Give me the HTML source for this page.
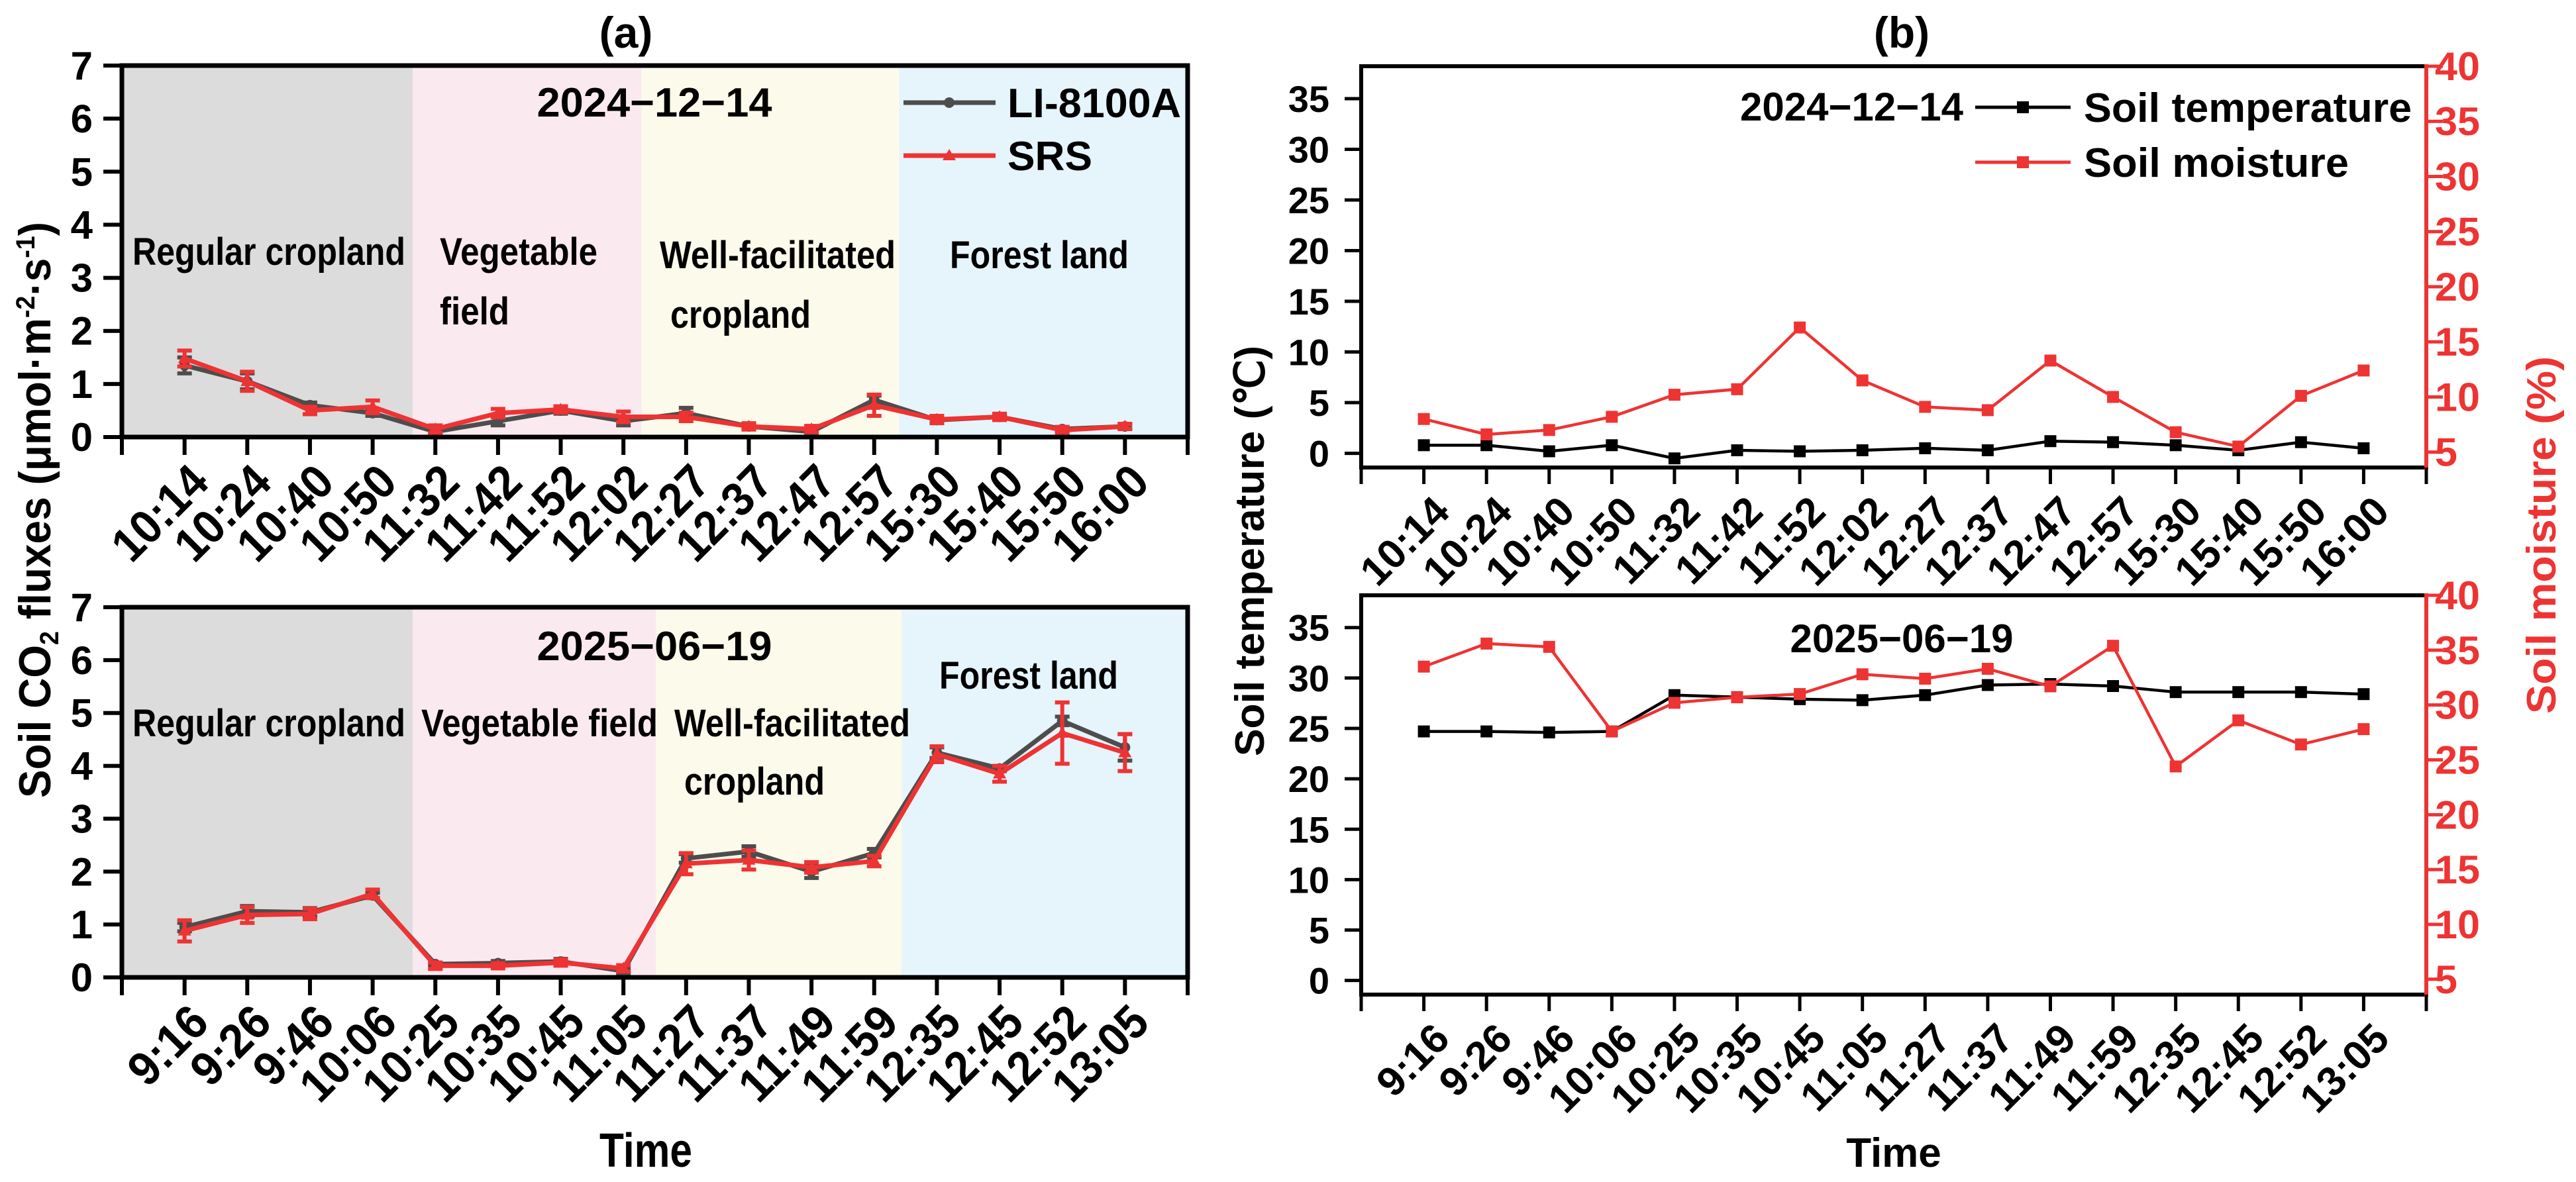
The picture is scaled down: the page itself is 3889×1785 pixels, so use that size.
<!DOCTYPE html>
<html><head><meta charset="utf-8">
<style>
html,body{margin:0;padding:0;background:#fff;}
svg{display:block;font-family:"Liberation Sans",Arial,sans-serif;font-weight:bold;}
</style></head>
<body>
<svg id="fig" width="3889" height="1785" viewBox="0 0 3889 1785" xmlns="http://www.w3.org/2000/svg"></svg>
<script>
// ---- Data ----
const timesDec = ["10:14","10:24","10:40","10:50","11:32","11:42","11:52","12:02","12:27","12:37","12:47","12:57","15:30","15:40","15:50","16:00"];
const timesJun = ["9:16","9:26","9:46","10:06","10:25","10:35","10:45","11:05","11:27","11:37","11:49","11:59","12:35","12:45","12:52","13:05"];
const liDec = [1.35,1.05,0.6,0.45,0.1,0.3,0.5,0.3,0.45,0.2,0.1,0.7,0.32,0.38,0.15,0.2];
const liDecErr = [0.15,0.15,0.05,0.05,0.05,0.08,0.06,0.08,0.1,0.05,0.05,0.08,0.05,0.05,0.04,0.04];
const srsDec = [1.48,1.05,0.5,0.57,0.15,0.45,0.52,0.38,0.38,0.2,0.15,0.6,0.33,0.38,0.13,0.2];
const srsDecErr = [0.15,0.18,0.07,0.12,0.07,0.08,0.06,0.1,0.08,0.06,0.06,0.2,0.07,0.06,0.06,0.05];
const liJun = [0.95,1.25,1.23,1.55,0.25,0.27,0.3,0.12,2.25,2.38,2.0,2.35,4.25,3.95,4.85,4.35];
const liJunErr = [0.08,0.1,0.08,0.05,0.03,0.04,0.05,0.04,0.08,0.1,0.12,0.08,0.1,0.05,0.08,0.25];
const srsJun = [0.88,1.18,1.2,1.58,0.22,0.22,0.28,0.17,2.15,2.22,2.08,2.2,4.22,3.85,4.62,4.25];
const srsJunErr = [0.2,0.15,0.1,0.08,0.06,0.05,0.06,0.06,0.2,0.18,0.1,0.1,0.15,0.15,0.58,0.35];
const tempDec = [0.8,0.8,0.2,0.8,-0.5,0.3,0.2,0.3,0.5,0.3,1.2,1.1,0.8,0.3,1.1,0.5];
const moistDec = [8,6.6,7,8.2,10.2,10.7,16.3,11.5,9.1,8.8,13.3,10.0,6.8,5.5,10.1,12.4];
const tempJun = [24.7,24.7,24.6,24.7,28.3,28.1,27.9,27.8,28.3,29.3,29.4,29.2,28.6,28.6,28.6,28.4];
const moistJun = [33.5,35.6,35.3,27.6,30.2,30.7,31.0,32.8,32.4,33.3,31.7,35.4,24.4,28.6,26.4,27.8];
const fluxTicks = [0,1,2,3,4,5,6,7];
const tempTicks = [0,5,10,15,20,25,30,35];
const moistTicks = [5,10,15,20,25,30,35,40];
const regionNames = ["Regular cropland","Vegetable field","Well-facilitated cropland","Forest land"];
const regionBoundsDec = [0,4.64,8.29,12.4,17];
const regionBoundsJun = [0,4.64,8.52,12.44,17];
const regionColors = ["#dcdcdc","#fbe9f0","#fcfaea","#e6f4fb"];

const NS="http://www.w3.org/2000/svg";
const svg=document.getElementById('fig');
function el(tag,attrs,parent,text){const e=document.createElementNS(NS,tag);for(const k in attrs)e.setAttribute(k,attrs[k]);if(text!==undefined)e.textContent=text;(parent||svg).appendChild(e);return e;}
function mkX(L,R){return i=>L+(i+1)*(R-L)/17;}
function mkXr(L,R){return v=>L+v*(R-L)/17;}
function mkY(T,B,vmin,vmax){return v=>B-(v-vmin)/(vmax-vmin)*(B-T);}

function xLabels(g,labels,x,axisY,dx,dy,fs,cond){
  labels.forEach((t,i)=>{
    const px=x(i)+dx, py=axisY+dy;
    const tx=el('text',{x:px,y:py,'font-size':fs,'text-anchor':'end',transform:`rotate(-45 ${px} ${py})`},g,t);
    if(cond){tx.setAttribute('textLength',t.length*34);tx.setAttribute('lengthAdjust','spacingAndGlyphs');}
    
    
  });
}

function fluxPanel(name,T,B,bounds,li,liE,srs,srsE,labels,dateText,dateY,regionLabels){
  const L=184,R=1793;
  const x=mkX(L,R), xr=mkXr(L,R), y=mkY(T,B,0,7);
  const g=el('g',{});  
  for(let k=0;k<4;k++){
    const r=el('rect',{x:xr(bounds[k]),y:T,width:xr(bounds[k+1])-xr(bounds[k]),height:B-T,fill:regionColors[k]},g);
     
  }
  regionLabels.forEach(r=>{
    const t=el('text',{x:r[1],y:r[2],'font-size':58,textLength:r[3],lengthAdjust:'spacingAndGlyphs'},g,r[0]);
     
  });
  const dt=el('text',{x:988,y:dateY,'font-size':62,'text-anchor':'middle',textLength:355,lengthAdjust:'spacingAndGlyphs'},g,dateText);
   
  [[li,liE,'#4d4d4d','circle'],[srs,srsE,'#ee3333','tri']].forEach(([d,e,c,m])=>{
    const sg=el('g',{},g);  
    d.forEach((v,i)=>{
      const eb=el('path',{d:`M${x(i)},${y(v-e[i])}V${y(v+e[i])}M${x(i)-11},${y(v-e[i])}h22M${x(i)-11},${y(v+e[i])}h22`,stroke:c,'stroke-width':6,fill:'none'},sg);
       
    });
    const ln=el('polyline',{points:d.map((v,i)=>x(i)+','+y(v)).join(' '),fill:'none',stroke:c,'stroke-width':7,'stroke-linejoin':'round'},sg);
     
    d.forEach((v,i)=>{
      let mk;
      if(m==='circle') mk=el('circle',{cx:x(i),cy:y(v),r:8,fill:c},sg);
      else mk=el('path',{d:`M${x(i)},${y(v)-10}l10,17h-20z`,fill:c},sg);
       
    });
  });
  el('rect',{x:L,y:T,width:R-L,height:B-T,fill:'none',stroke:'#000','stroke-width':7},g);
  fluxTicks.forEach(v=>{
    el('line',{x1:L-28,x2:L,y1:y(v),y2:y(v),stroke:'#000','stroke-width':6},g);
    const t=el('text',{x:140,y:y(v)+21,'font-size':60,'text-anchor':'end'},g,v);
     
  });
  for(let k=0;k<=17;k++){el('line',{x1:xr(k),x2:xr(k),y1:B,y2:B+27,stroke:'#000','stroke-width':6},g);}
  xLabels(g,labels,x,B,40,72,72,true);
}

function envPanel(name,T,B,temp,moist,labels,dateText,dateY,legend){
  const L=2055,R=3663;
  const x=mkX(L,R), xr=mkXr(L,R);
  const ty=mkY(T,B,-1.4,38.2), my=mkY(T,B,3.6,40);
  const g=el('g',{});  
  [[temp,ty,'#000','series-soil-temperature'],[moist,my,'#ee3333','series-soil-moisture']].forEach(([d,f,c,n])=>{
    const sg=el('g',{},g);  
    el('polyline',{points:d.map((v,i)=>x(i)+','+f(v)).join(' '),fill:'none',stroke:c,'stroke-width':4.5},sg);
    d.forEach((v,i)=>{const r=el('rect',{x:x(i)-9,y:f(v)-9,width:18,height:18,fill:c},sg);
       });
  });
  el('path',{d:`M${R},${T}H${L}V${B}H${R}`,fill:'none',stroke:'#000','stroke-width':6},g);
  el('line',{x1:R,x2:R,y1:T-3,y2:B+3,stroke:'#ee3333','stroke-width':6},g);
  tempTicks.forEach(v=>{
    el('line',{x1:L-25,x2:L,y1:ty(v),y2:ty(v),stroke:'#000','stroke-width':5},g);
    const t=el('text',{x:2007,y:ty(v)+20,'font-size':56,'text-anchor':'end'},g,v);
     
  });
  moistTicks.forEach(v=>{
    el('line',{x1:R,x2:R+25,y1:my(v),y2:my(v),stroke:'#ee3333','stroke-width':5},g);
    const t=el('text',{x:3676,y:my(v)+21,'font-size':60,fill:'#ee3333',textLength:String(v).length*34,lengthAdjust:'spacingAndGlyphs'},g,v);
     
  });
  for(let k=0;k<=17;k++){el('line',{x1:xr(k),x2:xr(k),y1:B,y2:B+25,stroke:'#000','stroke-width':5},g);}
  xLabels(g,labels,x,B,42,70,62,false);
  const dt=el('text',{x:dateX(legend),y:dateY,'font-size':60,'text-anchor':legend?'end':'middle'},g,dateText);
   
  if(legend){
    const lg=el('g',{},g);  
    [['Soil temperature','#000',162,495],['Soil moisture','#ee3333',245,400]].forEach(([t,c,yy,w])=>{
      el('line',{x1:2982,x2:3126,y1:yy,y2:yy,stroke:c,'stroke-width':5},lg);
      el('rect',{x:3045,y:yy-9,width:18,height:18,fill:c},lg);
      const tx=el('text',{x:3146,y:yy+22,'font-size':62,textLength:w,lengthAdjust:'spacingAndGlyphs'},lg,t);
       
    });
  }
}
function dateX(legend){return legend?2964:2871;}

fluxPanel('panel-a-2024',99,660,regionBoundsDec,liDec,liDecErr,srsDec,srsDecErr,timesDec,'2024−12−14',176,
  [['Regular cropland',200,400,412],['Vegetable',664,400,238],['field',664,490,105],['Well-facilitated',996,405,356],['cropland',1012,495,212],['Forest land',1434,405,270]]);
fluxPanel('panel-a-2025',917,1476,regionBoundsJun,liJun,liJunErr,srsJun,srsJunErr,timesJun,'2025−06−19',997,
  [['Regular cropland',200,1112,412],['Vegetable field',636,1112,357],['Well-facilitated',1018,1112,356],['cropland',1033,1200,212],['Forest land',1418,1040,270]]);

const la=el('g',{});  
el('line',{x1:1364,x2:1503,y1:155,y2:155,stroke:'#4d4d4d','stroke-width':7},la);
el('circle',{cx:1433,cy:155,r:8,fill:'#4d4d4d'},la);
let t1=el('text',{x:1521,y:177,'font-size':62,textLength:262,lengthAdjust:'spacingAndGlyphs'},la,'LI-8100A');
 
el('line',{x1:1364,x2:1503,y1:235,y2:235,stroke:'#ee3333','stroke-width':7},la);
el('path',{d:'M1433,225l10,17h-20z',fill:'#ee3333'},la);
let t2=el('text',{x:1521,y:257,'font-size':62,textLength:128,lengthAdjust:'spacingAndGlyphs'},la,'SRS');
 

envPanel('panel-b-2024',100,706,tempDec,moistDec,timesDec,'2024−12−14',182,true);
envPanel('panel-b-2025',899,1502,tempJun,moistJun,timesJun,'2025−06−19',985,false);

function title(txt,attrs,name){const t=el('text',attrs,svg);t.innerHTML=txt;return t;}
title('(a)',{x:945,y:72,'font-size':66,'text-anchor':'middle'},'panel-a-title');
title('(b)',{x:2871,y:72,'font-size':66,'text-anchor':'middle'},'panel-b-title');
title('Time',{x:975,y:1762,'font-size':72,'text-anchor':'middle',textLength:140,lengthAdjust:'spacingAndGlyphs'},'x-axis-title-a');
title('Time',{x:2859,y:1762,'font-size':62,'text-anchor':'middle'},'x-axis-title-b');
title('Soil CO<tspan font-size="40" dy="12">2</tspan><tspan dy="-12"> fluxes (μmol·m</tspan><tspan font-size="40" dy="-24">-2</tspan><tspan dy="24">·s</tspan><tspan font-size="40" dy="-24">-1</tspan><tspan dy="24">)</tspan>',
  {x:0,y:0,'font-size':68,'text-anchor':'middle',transform:'translate(76,770) rotate(-90)',textLength:870,lengthAdjust:'spacingAndGlyphs'},'y-axis-title-a');
title('Soil temperature (℃)',{x:0,y:0,'font-size':62,'text-anchor':'middle',transform:'translate(1908,832) rotate(-90)',textLength:620,lengthAdjust:'spacingAndGlyphs'},'y-axis-title-left-b');
title('Soil moisture (%)',{x:0,y:0,'font-size':62,fill:'#ee3333','text-anchor':'middle',transform:'translate(3858,808) rotate(-90)',textLength:540,lengthAdjust:'spacingAndGlyphs'},'y-axis-title-right-b');
</script>
</body></html>
